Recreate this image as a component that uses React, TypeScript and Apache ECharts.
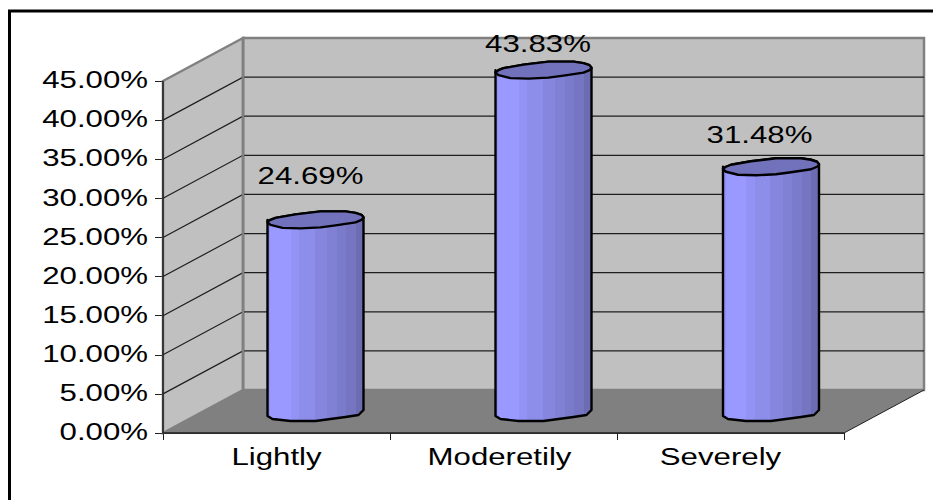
import React, { useEffect, useRef } from "react";
import * as echarts from "echarts";

const categories = ["Lightly", "Moderetily", "Severely"];
const severityValues = [24.69, 43.83, 31.48];
const yTicks = [0, 5, 10, 15, 20, 25, 30, 35, 40, 45];
const yTickLabels = ["0.00%", "5.00%", "10.00%", "15.00%", "20.00%", "25.00%", "30.00%", "35.00%", "40.00%", "45.00%"];

// Depth of the box and of the bar's position inside it, in pixels.
const BOX_DX = 80;
const BOX_DY = -43;
const BAR_DX = [39, 40, 40.5];
const BAR_DY = -20;
const HALF = 48;

// Outline of a bar's cap and foot, relative to the cylinder's axis.
const CAP_UPPER = [[-48, 2], [-45, 0], [-40, -2], [-20, -5.5], [5, -8.5], [30, -8.5], [40, -7], [46, -5], [48, -2.5]];
const CAP_LOWER = [[48, -2], [46, 0], [40, 2.5], [20, 5.5], [5, 7.5], [-15, 8.5], [-33, 8], [-45, 5], [-48, 2.5]];
const FOOT = [[-48, 3], [-43, 6], [-25, 8], [0, 8], [30, 4], [43, 2], [48, -3]];

// Vertical shading facets of the cylinder body: [end of facet, colour].
const FACETS: [number, string][] = [
  [0.03, "#9090F0"], [0.24, "#9999FF"], [0.33, "#9393F5"], [0.49, "#8D8DEA"],
  [0.62, "#8686DF"], [0.72, "#8080D5"], [0.82, "#7B7BCB"], [0.92, "#7575C1"], [1, "#6C6CB2"],
];
const bodyStops = FACETS.flatMap(([end, color], i) => [
  { offset: i === 0 ? 0 : FACETS[i - 1][0], color },
  { offset: end, color },
]);

// Hand-placed anchors for the stretched texts, relative to each band's centre.
const VALUE_LABEL_OFFSET = [[34, -64], [34.5, -46], [29, -52]];
const CATEGORY_LABEL_OFFSET = [0, -4, -10];

const FONT = '24px "Liberation Sans", Arial, sans-serif';
const TEXT_STRETCH = 1.3;
const LABEL_STYLE = { fill: "#000000", font: FONT };

const App = () => {
  const ref = useRef<HTMLDivElement>(null);

  useEffect(() => {
    document.body.style.margin = "0";
    const chart = echarts.init(ref.current!, null, { renderer: "svg" });

    const renderBox = (params: any, api: any) => {
      const cs = params.coordSys;
      const left = cs.x;
      const right = cs.x + cs.width;
      const bottom = cs.y + cs.height;
      const top = cs.y;
      const children: any[] = [];
      const wallStyle = { fill: "#C0C0C0", stroke: "#808080", lineWidth: 2.5, lineJoin: "miter" };

      children.push({
        type: "polygon",
        shape: { points: [[left + BOX_DX, top + BOX_DY], [right + BOX_DX, top + BOX_DY], [right + BOX_DX, bottom + BOX_DY], [left + BOX_DX, bottom + BOX_DY]] },
        style: wallStyle,
      });
      children.push({
        type: "polygon",
        shape: { points: [[left, top], [left + BOX_DX, top + BOX_DY], [left + BOX_DX, bottom + BOX_DY], [left, bottom]] },
        style: wallStyle,
      });
      children.push({
        type: "polygon",
        shape: { points: [[left, bottom], [left + BOX_DX, bottom + BOX_DY], [right + BOX_DX, bottom + BOX_DY], [right, bottom]] },
        style: { fill: "#808080" },
      });
      children.push({
        type: "line",
        shape: { x1: right, y1: bottom, x2: right + BOX_DX, y2: bottom + BOX_DY },
        style: { stroke: "#202020", lineWidth: 1 },
      });

      yTicks.forEach((tick) => {
        if (tick === 0 || tick === 45) return;
        const y = api.coord([categories[0], tick])[1];
        children.push({
          type: "polyline",
          shape: { points: [[left, y], [left + BOX_DX, y + BOX_DY], [right + BOX_DX, y + BOX_DY]] },
          style: { stroke: "#1E1E1E", lineWidth: 1.2, fill: "none" },
        });
      });
      // Rear corner edge sits above the gridlines.
      children.push({
        type: "line",
        shape: { x1: left + BOX_DX, y1: top + BOX_DY, x2: left + BOX_DX, y2: bottom + BOX_DY },
        style: { stroke: "#808080", lineWidth: 2.5 },
      });
      // Front edges of the box.
      children.push({
        type: "polyline",
        shape: { points: [[left, top], [left, bottom], [right, bottom]] },
        style: { stroke: "#202020", lineWidth: 1.5, fill: "none" },
      });

      return { type: "group", children };
    };

    const renderBar = (params: any, api: any) => {
      const [x0, yTop] = api.coord([api.value(0), api.value(1)]);
      const [, yBase] = api.coord([api.value(0), 0]);
      const cx = x0 + BAR_DX[params.dataIndex];
      const capY = yTop + BAR_DY;
      const footY = yBase + BAR_DY;
      const shift = (pts: number[][], y: number) => pts.map(([dx, dy]) => [cx + dx, y + dy]);
      const stroke = { stroke: "#000000", lineWidth: 2.4, lineJoin: "round" };
      const body = [...shift(CAP_UPPER, capY), [cx + HALF, capY], ...shift(FOOT, footY).reverse(), [cx - HALF, capY]];
      return {
        type: "group",
        children: [
          {
            type: "polygon",
            shape: { points: body },
            style: {
              ...stroke,
              fill: { type: "linear", x: 0, y: 0, x2: 1, y2: 0, colorStops: bodyStops },
            },
          },
          {
            type: "polygon",
            shape: { points: [...shift(CAP_UPPER, capY), ...shift(CAP_LOWER, capY)] },
            style: { ...stroke, fill: "#7272BC" },
          },
        ],
      };
    };

    const renderValueLabel = (params: any, api: any) => {
      const [x0, yTop] = api.coord([api.value(0), api.value(1)]);
      const [dx, dy] = VALUE_LABEL_OFFSET[params.dataIndex];
      return {
        type: "text",
        x: x0 + dx,
        y: yTop + dy,
        scaleX: TEXT_STRETCH,
        style: {
          ...LABEL_STYLE,
          text: `${severityValues[params.dataIndex].toFixed(2)}%`,
          align: "center",
          verticalAlign: "middle",
        },
      };
    };

    const renderYLabel = (params: any, api: any) => {
      const tick = api.value(1);
      const [, y] = api.coord([categories[0], tick]);
      return {
        type: "text",
        x: params.coordSys.x - 15,
        y: y - 1,
        scaleX: TEXT_STRETCH,
        style: {
          ...LABEL_STYLE,
          text: yTickLabels[params.dataIndex],
          align: "right",
          verticalAlign: "middle",
        },
      };
    };

    const renderCategoryLabel = (params: any, api: any) => {
      const [x0] = api.coord([api.value(0), 0]);
      return {
        type: "text",
        x: x0 + CATEGORY_LABEL_OFFSET[params.dataIndex],
        y: params.coordSys.y + params.coordSys.height + 24,
        scaleX: TEXT_STRETCH,
        style: {
          ...LABEL_STYLE,
          text: categories[params.dataIndex],
          align: "center",
          verticalAlign: "middle",
        },
      };
    };

    const pairs = categories.map((c, i) => [c, severityValues[i]]);

    chart.setOption({
      animation: false,
      backgroundColor: "#FFFFFF",
      grid: { left: 163, right: 89, top: 81, bottom: 67, containLabel: false },
      xAxis: {
        type: "category",
        data: categories,
        axisLine: { show: true, lineStyle: { color: "#202020", width: 1.5 } },
        axisTick: { show: true, alignWithLabel: false, length: 7, lineStyle: { color: "#202020", width: 1 } },
        axisLabel: { show: false },
        splitLine: { show: false },
      },
      yAxis: {
        type: "value",
        min: 0,
        max: 45,
        interval: 5,
        axisLine: { show: true, lineStyle: { color: "#202020", width: 1.5 } },
        axisTick: { show: true, length: 8, lineStyle: { color: "#202020", width: 1 } },
        axisLabel: { show: false },
        splitLine: { show: false },
      },
      graphic: [
        {
          type: "polyline",
          shape: { points: [[9.5, 500], [9.5, 11], [933, 11]] },
          style: { stroke: "#000000", lineWidth: 3, fill: "none" },
        },
      ],
      series: [
        { type: "custom", renderItem: renderBox, data: [pairs[0]], encode: { x: 0, y: 1 }, silent: true, z: 1 },
        { type: "custom", renderItem: renderBar, data: pairs, encode: { x: 0, y: 1 }, silent: true, z: 2 },
        { type: "custom", renderItem: renderValueLabel, data: pairs, encode: { x: 0, y: 1 }, silent: true, z: 3 },
        {
          type: "custom",
          renderItem: renderYLabel,
          data: yTicks.map((t) => [categories[0], t]),
          encode: { x: 0, y: 1 },
          silent: true,
          z: 3,
        },
        { type: "custom", renderItem: renderCategoryLabel, data: pairs, encode: { x: 0, y: 1 }, silent: true, z: 3 },
      ],
    });

    return () => chart.dispose();
  }, []);

  return <div ref={ref} style={{ width: 933, height: 500, overflow: "hidden" }} />;
};

export default App;
